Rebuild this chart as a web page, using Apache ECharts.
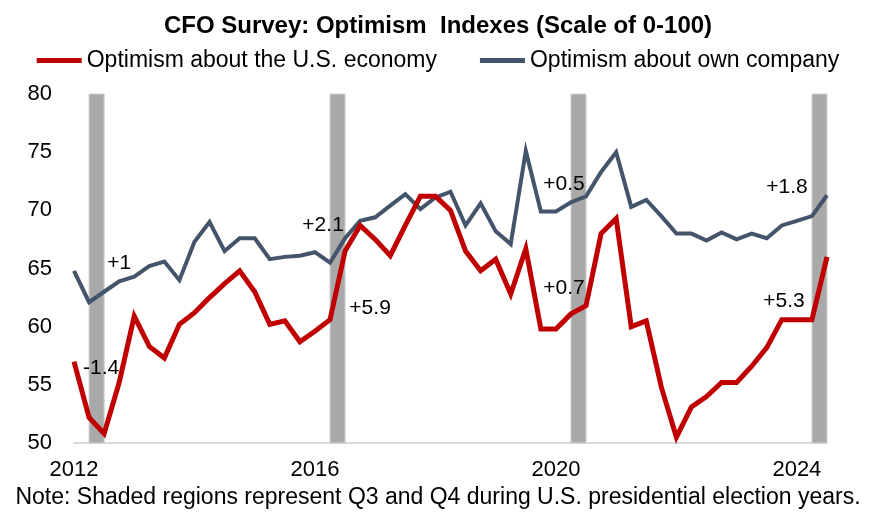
<!DOCTYPE html>
<html lang="en">
<head>
	<meta charset="utf-8">
	<title>CFO Survey: Optimism Indexes</title>
	<script src="https://cdn.jsdelivr.net/npm/echarts@6/dist/echarts.min.js"></script>
	<style>
		html, body { margin: 0; padding: 0; background: #fff; }
		#panel { width: 876px; height: 522px; }
	</style>
</head>
<body>
	<div id="panel"></div>
	<script type="text/javascript">
		// quarters 2012Q1 .. 2024Q3
		const quarters = [];
		for (let y = 2012; y <= 2024; y++) {
			for (let q = 1; q <= 4; q++) {
				if (y === 2024 && q > 3) break;
				quarters.push(y + 'Q' + q);
			}
		}

		// Optimism about the U.S. economy
		const economy = [
			57.0, 52.2, 50.8, 55.2, 60.9, 58.3, 57.3, 60.2, 61.2, 62.5, 63.7, 64.8,
			63.0, 60.2, 60.5, 58.7, 59.6, 60.6, 66.5, 68.7, 67.5, 66.1, 68.7, 71.2,
			71.2, 70.0, 66.5, 64.8, 65.8, 62.8, 66.7, 59.8, 59.8, 61.1, 61.8, 68.0,
			69.3, 60.0, 60.5, 54.8, 50.5, 53.1, 54.0, 55.2, 55.2, 56.6, 58.2, 60.6,
			60.6, 60.6, 66.0
		];
		// Optimism about own company
		const company = [
			64.8, 62.1, 63.0, 63.9, 64.3, 65.2, 65.6, 64.0, 67.3, 69.0, 66.5, 67.6,
			67.6, 65.8, 66.0, 66.1, 66.4, 65.5, 67.6, 69.1, 69.4, 70.4, 71.4, 70.1,
			71.1, 71.6, 68.7, 70.6, 68.2, 67.1, 75.1, 69.9, 69.9, 70.7, 71.2, 73.3,
			75.0, 70.3, 70.9, 69.5, 68.0, 68.0, 67.4, 68.1, 67.5, 68.0, 67.6, 68.7,
			69.1, 69.5, 71.3
		];
		// election-year shading (second half of the year)
		const bands = [['2012Q2', '2012Q3'], ['2016Q2', '2016Q3'], ['2020Q2', '2020Q3'], ['2024Q2', '2024Q3']];
		// change labels: [quarter index, text]
		const economyNotes = [[2, '-1.4'], [18, '+5.9'], [34, '+0.7'], [50, '+5.3']];
		const companyNotes = [[2, '+1'], [18, '+2.1'], [34, '+0.5'], [50, '+1.8']];
		const yTicks = [50, 55, 60, 65, 70, 75, 80];

		// label offsets (px) from the point
		const economyOffsets = [[-3, -65], [25, 57], [-22, -18], [-43, 44]];
		const companyOffsets = [[15, -29], [-22, -13], [-22, -12], [-40, -8]];

		const font = 'Liberation Sans, Arial, sans-serif';

		function notePoints(notes, offsets, values) {
			return notes.map((n, k) => ({
				coord: [n[0], values[n[0]]],
				value: n[1],
				label: { offset: offsets[k] }
			}));
		}

		const noteStyle = {
			symbol: 'circle',
			symbolSize: 0,
			label: {
				show: true,
				formatter: (p) => p.value,
				color: '#000',
				fontSize: 21,
				fontFamily: font
			},
			silent: true
		};

		const panel = echarts.init(document.getElementById('panel'));
		let option = {
			animation: false,
			backgroundColor: '#fff',
			title: [{
				text: 'CFO Survey: Optimism  Indexes (Scale of 0-100)',
				left: 'center',
				top: 9,
				textStyle: { fontSize: 24, fontWeight: 'bold', color: '#000', fontFamily: font }
			}, {
				text: 'Note: Shaded regions represent Q3 and Q4 during U.S. presidential election years.',
				left: 'center',
				top: 481,
				textStyle: { fontSize: 23, fontWeight: 'normal', color: '#000', fontFamily: font }
			}],
			legend: {
				data: ['Optimism about the U.S. economy', 'Optimism about own company'],
				left: 'center',
				top: 44,
				icon: 'rect',
				itemWidth: 45,
				itemHeight: 5,
				itemGap: 43,
				textStyle: { fontSize: 23, color: '#000', fontFamily: font }
			},
			grid: { left: 74, right: 49, top: 94, bottom: 79 },
			xAxis: {
				type: 'category',
				data: quarters,
				boundaryGap: false,
				axisLine: { lineStyle: { color: '#d9d9d9', width: 2 } },
				axisTick: { show: false },
				axisLabel: {
					interval: (i) => i % 16 === 0,
					formatter: (v) => v.slice(0, 4),
					color: '#000',
					fontSize: 22,
					fontFamily: font,
					margin: 16
				}
			},
			yAxis: {
				type: 'value',
				min: yTicks[0],
				max: yTicks[yTicks.length - 1],
				interval: 5,
				splitLine: { show: false },
				axisLine: { show: false },
				axisTick: { show: false },
				axisLabel: { color: '#000', fontSize: 22, fontFamily: font, margin: 22 }
			},
			series: [{
				name: 'bands',
				type: 'line',
				data: [],
				z: 1,
				markArea: {
					silent: true,
					itemStyle: { color: '#a9a9a9', borderColor: '#d0d0d0', borderWidth: 1 },
					data: bands.map((b) => [{ xAxis: b[0] }, { xAxis: b[1] }])
				}
			}, {
				name: 'Optimism about the U.S. economy',
				type: 'line',
				data: economy,
				z: 3,
				symbol: 'none',
				lineStyle: { color: '#c00000', width: 5, join: 'miter' },
				itemStyle: { color: '#c00000' },
				markPoint: Object.assign({ data: notePoints(economyNotes, economyOffsets, economy) }, noteStyle)
			}, {
				name: 'Optimism about own company',
				type: 'line',
				data: company,
				z: 2,
				symbol: 'none',
				lineStyle: { color: '#44546a', width: 4, join: 'miter' },
				itemStyle: { color: '#44546a' },
				markPoint: Object.assign({ data: notePoints(companyNotes, companyOffsets, company) }, noteStyle)
			}]
		};
		panel.setOption(option);
	</script>
</body>
</html>
